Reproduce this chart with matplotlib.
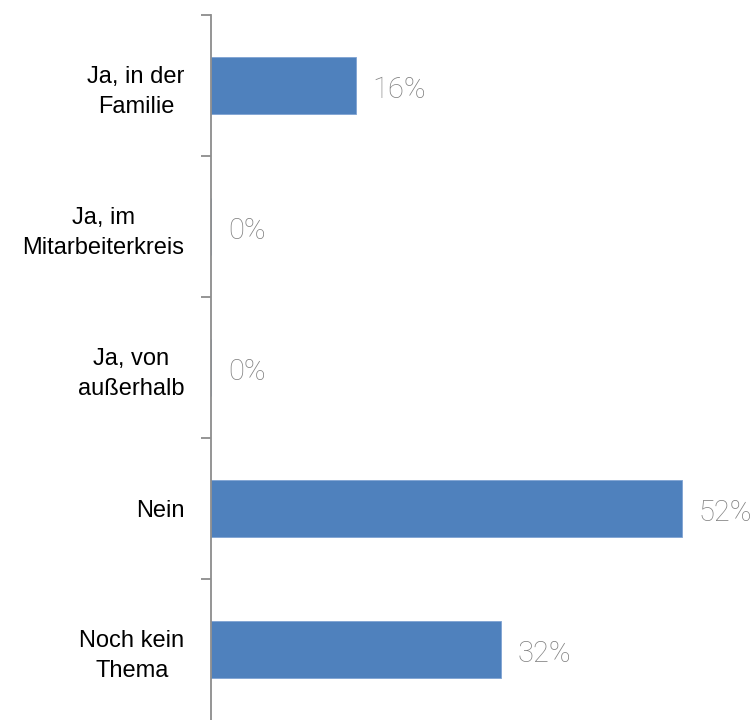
import matplotlib
matplotlib.use("Agg")
import matplotlib.pyplot as plt
from matplotlib.ticker import FixedLocator, NullFormatter

categories = ["Ja, in der\nFamilie", "Ja, im\nMitarbeiterkreis", "Ja, von\naußerhalb", "Nein", "Noch kein\nThema"]
values = [16, 0, 0, 52, 32]
value_labels = ["16%", "0%", "0%", "52%", "32%"]

W, H = 756, 720
PX = 9.05  # pixels per percent
fig = plt.figure(figsize=(W / 100, H / 100), dpi=100)
ax = fig.add_axes([211 / W, 0, (W - 211) / W, 705 / H])

n = len(categories)
ypos = list(range(n))
ax.barh(ypos, values, height=0.4, color="#4F81BD", edgecolor="#7FA3D3", linewidth=0.6)
ax.set_ylim(n - 0.5, -0.5)
ax.set_xlim(0, (W - 211) / PX)

for spine in ["top", "right", "bottom"]:
    ax.spines[spine].set_visible(False)
ax.spines["left"].set_color("#8C8C8C")
ax.spines["left"].set_linewidth(1.3)
ax.set_xticks([])

ax.yaxis.set_major_locator(FixedLocator([i - 0.5 for i in range(n)]))
ax.yaxis.set_major_formatter(NullFormatter())
ax.yaxis.set_minor_locator(FixedLocator(ypos))
ax.set_yticklabels(categories, minor=True, family=["Liberation Sans", "DejaVu Sans"],
                   fontsize=17, ha="right", multialignment="center", linespacing=1.45)
ax.tick_params(axis="y", which="major", length=7, width=1.3, color="#8C8C8C", direction="out")
ax.tick_params(axis="y", which="minor", length=0, pad=19)

for y, v, lab in zip(ypos, values, value_labels):
    ax.annotate(lab, xy=(v, y), xytext=(17 * 0.72, -3), textcoords="offset points",
                va="center", ha="left", fontsize=21,
                family=["Roboto", "DejaVu Sans"], fontweight="light", color="#808080")

fig.savefig("out.png", dpi=100)
